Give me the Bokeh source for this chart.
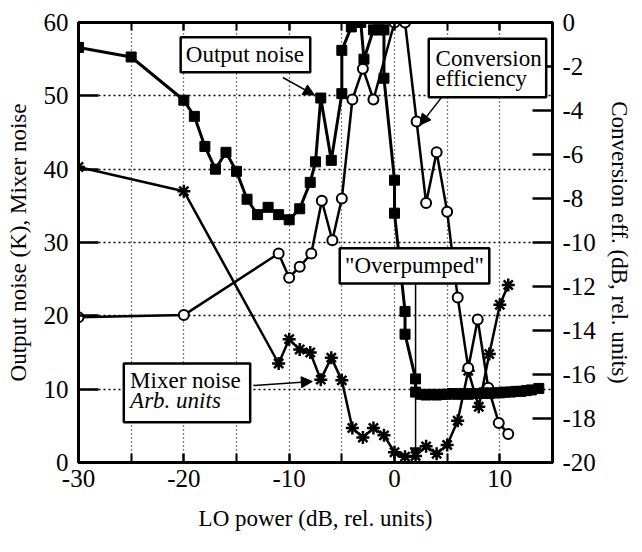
from bokeh.plotting import figure
from bokeh.models import (Range1d, LinearAxis, FixedTicker, BoxAnnotation, Label,
                          Arrow, NormalHead)
from bokeh.embed import file_html
from bokeh.resources import INLINE

# ---- data ----
out_x = [-30, -25, -20, -19, -18, -17, -16, -15, -14, -13, -12, -11, -10, -9, -8, -7.5,
         -7, -6, -5, -5, -4.1, -3.2, -2.9, -2, -1.5, -1, -1, 0, 0, 1, 1, 2, 2, 2.5, 3, 3.5,
         4, 4.5, 5, 5.5, 6, 6.5, 7, 7.5, 8, 8.5, 9, 9.5, 10, 10.5, 11, 11.5, 12, 12.5,
         13, 13.7]
out_y = [56.6, 55.3, 49.4, 47.2, 43.1, 40.0, 42.3, 39.7, 35.9, 33.8, 34.8, 33.8, 33.1,
         34.6, 38.2, 41.0, 49.7, 41.2, 50.3, 56.2, 59.4, 60.0, 55.0, 59.0, 59.0, 59.0,
         52.4, 38.5, 34.0, 20.6, 17.5, 11.4, 9.6, 9.3, 9.2, 9.3, 9.2, 9.3, 9.3, 9.4, 9.3,
         9.4, 9.3, 9.4, 9.4, 9.5, 9.4, 9.5, 9.5, 9.6, 9.6, 9.7, 9.7, 9.8, 9.9, 10.1]

conv_x = [-30, -20, -11, -10, -9, -7.9, -6.9, -5.9, -5, -4, -3, -2, 0, 1, 2.1, 3, 4, 5,
          6, 7, 7.9, 8.9, 9.9, 10.8]
conv_db = [-13.4, -13.3, -10.5, -11.6, -11.1, -10.5, -8.1, -9.9, -8.0, -3.5, -2.1, -3.5,
           0.0, 0.0, -4.5, -8.2, -5.9, -8.6, -12.5, -15.7, -13.5, -16.6, -18.2, -18.7]

mix_x = [-30, -20, -11, -10, -9, -8, -7, -6, -5, -4, -3, -2, -1, 0, 1, 2, 3, 4, 5, 6, 7,
         8, 9, 10, 10.8]
mix_y = [40.3, 37.0, 13.5, 16.8, 15.4, 15.0, 11.3, 14.3, 11.2, 4.7, 3.4, 4.7, 3.7, 1.4,
         0.8, 0.9, 2.2, 1.2, 2.4, 5.7, 12.5, 7.6, 14.8, 21.5, 24.2]

x_major = [-30, -20, -10, 0, 10]
x_minor = [-25, -15, -5, 5, 15]
left_ticks = [0, 10, 20, 30, 40, 50, 60]
right_ticks = [0, -2, -4, -6, -8, -10, -12, -14, -16, -18, -20]

FONT = "Liberation Serif"

p = figure(width=634, height=544, x_range=Range1d(-30, 15), y_range=Range1d(0, 60),
           output_backend="svg", toolbar_location=None,
           min_border_left=78, min_border_right=82, min_border_top=22,
           min_border_bottom=82)
p.extra_y_ranges = {"conv": Range1d(-20, 0)}
p.outline_line_color = "black"
p.outline_line_width = 3
p.background_fill_color = "white"

# grids
p.xaxis.ticker = FixedTicker(ticks=x_major, minor_ticks=x_minor)
p.yaxis.ticker = FixedTicker(ticks=left_ticks)
p.xgrid.grid_line_color = "black"
p.xgrid.grid_line_dash = "1 3"
p.xgrid.grid_line_width = 1.3
p.xgrid.minor_grid_line_color = "black"
p.xgrid.minor_grid_line_dash = "1 3"
p.xgrid.minor_grid_line_width = 1.3
p.ygrid.grid_line_color = "black"
p.ygrid.grid_line_dash = "2 3"
p.ygrid.grid_line_width = 1.3


def style_axis(ax, tick_in, label_size="25px"):
    ax.axis_line_color = "black"
    ax.axis_line_width = 3
    ax.major_tick_in = tick_in
    ax.major_tick_out = 0
    ax.major_tick_line_width = 2.5
    ax.major_tick_line_color = "black"
    ax.minor_tick_in = tick_in
    ax.minor_tick_out = 0
    ax.minor_tick_line_width = 2
    ax.minor_tick_line_color = "black"
    ax.major_label_text_font = FONT
    ax.major_label_text_font_size = label_size
    ax.major_label_text_color = "black"
    ax.axis_label_text_font = FONT
    ax.axis_label_text_font_size = "23px"
    ax.axis_label_text_font_style = "normal"
    ax.axis_label_text_color = "black"


xa = p.xaxis[0]
style_axis(xa, 9)
xa.major_label_overrides = {t: str(t) for t in x_major}
xa.major_label_standoff = 7
xa.axis_label = "LO power (dB, rel. units)"
xa.axis_label_standoff = 16

ya = p.yaxis[0]
style_axis(ya, 20)
ya.minor_tick_line_color = None
ya.major_label_standoff = 10
ya.axis_label = "Output noise (K), Mixer noise"
ya.axis_label_standoff = 10

ra = LinearAxis(y_range_name="conv", ticker=FixedTicker(ticks=right_ticks))
style_axis(ra, 20)
ra.minor_tick_line_color = None
ra.major_label_overrides = {t: str(t) for t in right_ticks}
ra.major_label_standoff = 10
ra.axis_label = "Conversion eff. (dB, rel. units)"
ra.axis_label_standoff = 8
p.add_layout(ra, "right")

ta = LinearAxis(ticker=FixedTicker(ticks=x_major, minor_ticks=x_minor))
style_axis(ta, 8, label_size="0px")
ta.major_label_standoff = 0
ta.major_label_text_color = None
p.add_layout(ta, "above")

# series
p.line(mix_x, mix_y, line_color="black", line_width=2.5)
p.scatter(mix_x, mix_y, marker="asterisk", size=13, line_color="black", line_width=2.5)

p.line(conv_x, conv_db, y_range_name="conv", line_color="black", line_width=2.5)
p.scatter(conv_x, conv_db, y_range_name="conv", marker="circle", size=10,
          fill_color="white", line_color="black", line_width=2)

p.line(out_x, out_y, line_color="black", line_width=3)
p.scatter(out_x, out_y, marker="square", size=10, fill_color="black", line_color="black")


def boxed(left, right, top, bottom):
    p.add_layout(BoxAnnotation(left=left, right=right, top=top, bottom=bottom,
                               fill_color="white", fill_alpha=1.0, line_color="black",
                               line_width=2.5, line_alpha=1.0))


def text(x, y, s, align="center", style="normal"):
    p.add_layout(Label(x=x, y=y, text=s, text_font=FONT, text_font_size="23px",
                       text_align=align, text_baseline="middle", text_color="black",
                       text_font_style=style))


def arrow(x0, y0, x1, y1):
    p.add_layout(Arrow(end=NormalHead(size=11, fill_color="black", line_color="black"),
                       x_start=x0, y_start=y0, x_end=x1, y_end=y1,
                       line_color="black", line_width=1.5))


# annotations
arrow(-10.6, 52.5, -7.6, 50.1)
boxed(-20.3, -8.0, 58.0, 53.2)
text(-14.2, 55.6, "Output noise")

arrow(4.75, 50.3, 2.4, 46.0)
boxed(3.25, 14.4, 57.8, 49.8)
text(3.9, 55.1, "Conversion", align="left")
text(3.9, 52.4, "efficiency", align="left")

arrow(2.0, 24.4, 2.0, 0.5)
boxed(-5.2, 9.0, 29.2, 24.4)
text(1.9, 26.9, "\"Overpumped\"")

arrow(-13.4, 10.5, -7.8, 11.05)
boxed(-25.7, -13.7, 13.5, 5.5)
text(-25.1, 11.2, "Mixer noise", align="left")
text(-25.1, 8.4, "Arb. units", align="left", style="italic")

open("out.html", "w").write(file_html(p, INLINE))
